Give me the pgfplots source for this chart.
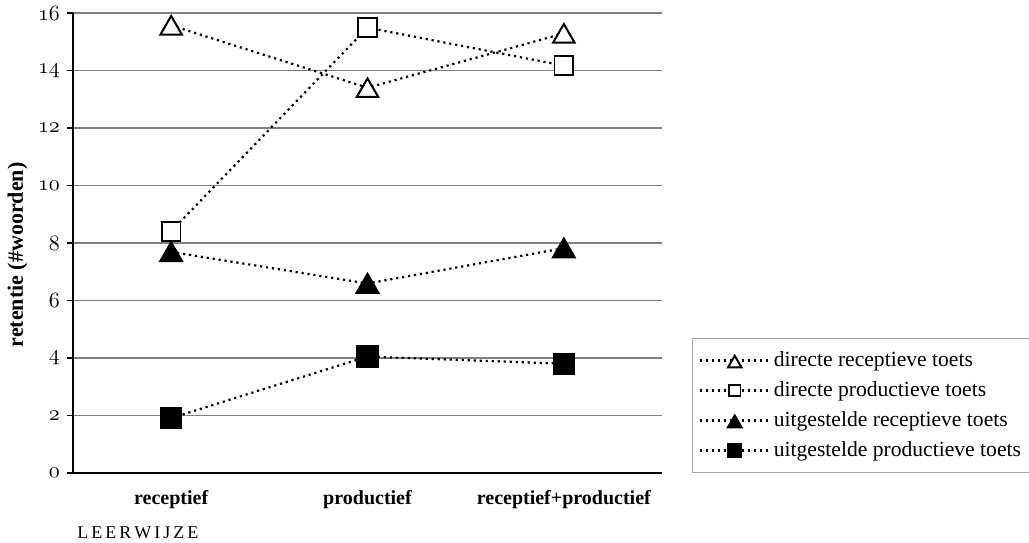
\documentclass[border=0pt]{standalone}
\usepackage{fontspec}
\setmainfont{Liberation Serif}
\usepackage{pgfplots}
\pgfplotsset{compat=1.18}

\tikzset{dotline/.style={line width=1.1pt, line cap=butt, dash pattern=on 1.1pt off 1.9pt}}

\begin{document}
\begin{tikzpicture}
\path[use as bounding box] (0,0) rectangle (514.5pt,271pt);
\begin{axis}[
    at={(36.5pt,34.5pt)}, anchor=south west,
    scale only axis,
    width=294.5pt, height=230pt,
    xmin=-0.5, xmax=2.5,
    ymin=0, ymax=16,
    xtick={0,1,2},
    xticklabels={receptief, productief, receptief+productief},
    ytick={0,2,...,16},
    yticklabel={$\mathnormal{\pgfmathprintnumber{\tick}}$},
    axis lines*=left,
    x axis line style={-, line width=0.7pt, black},
    y axis line style={-, line width=1pt, black},
    ymajorgrids,
    major grid style={line width=0.7pt, black!50},
    tick align=outside,
    major x tick style={draw=none},
    major y tick style={line width=0.7pt, black},
    major tick length=3pt,
    x tick label style={font=\fontsize{10}{12}\selectfont\bfseries, yshift=-2pt},
    y tick label style={font=\fontsize{11}{13}\selectfont},
    clip=false,
    legend style={at={(1.051,0)}, anchor=south west,
        draw=black!35, line width=0.6pt,
        font=\fontsize{10.8}{12}\selectfont,
        inner xsep=3pt, inner ysep=5pt,
        row sep=3pt,
        nodes={inner sep=1.5pt}},
    legend cell align=left,
    legend image code/.code={%
        \draw[mark repeat=2, mark phase=2, #1] plot coordinates {(0pt,0pt) (17.5pt,0pt) (35pt,0pt)};},
    legend image post style={every mark/.append style={scale=0.62}},
]
% directe receptieve toets
\addplot[dotline, black, mark=triangle*, mark size=6.2pt,
    mark options={solid, fill=white, line width=1pt, yshift=-1.5pt}]
    coordinates {(0,15.57) (1,13.40) (2,15.29)};
\addlegendentry{directe receptieve toets}
% directe productieve toets
\addplot[dotline, black, mark=square*, mark size=4.7pt,
    mark options={solid, fill=white, line width=0.9pt}]
    coordinates {(0,8.41) (1,15.49) (2,14.17)};
\addlegendentry{directe productieve toets}
% uitgestelde receptieve toets
\addplot[dotline, black, mark=triangle*, mark size=6.2pt,
    mark options={solid, fill=black, yshift=-1.5pt}]
    coordinates {(0,7.69) (1,6.59) (2,7.82)};
\addlegendentry{uitgestelde receptieve toets}
% uitgestelde productieve toets
\addplot[dotline, black, mark=square*, mark size=5pt,
    mark options={solid, fill=black}]
    coordinates {(0,1.91) (1,4.05) (2,3.80)};
\addlegendentry{uitgestelde productieve toets}
\end{axis}
\node[rotate=90, font=\fontsize{11}{13}\selectfont\bfseries] at (8.75pt,143.5pt) {retentie (\#woorden)};
\node[anchor=west, font=\fontsize{9}{11}\selectfont, inner sep=0pt] at (38.5pt,4.5pt) {L\,E\,E\,R\,W\,I\,J\,Z\,E};
\end{tikzpicture}
\end{document}
